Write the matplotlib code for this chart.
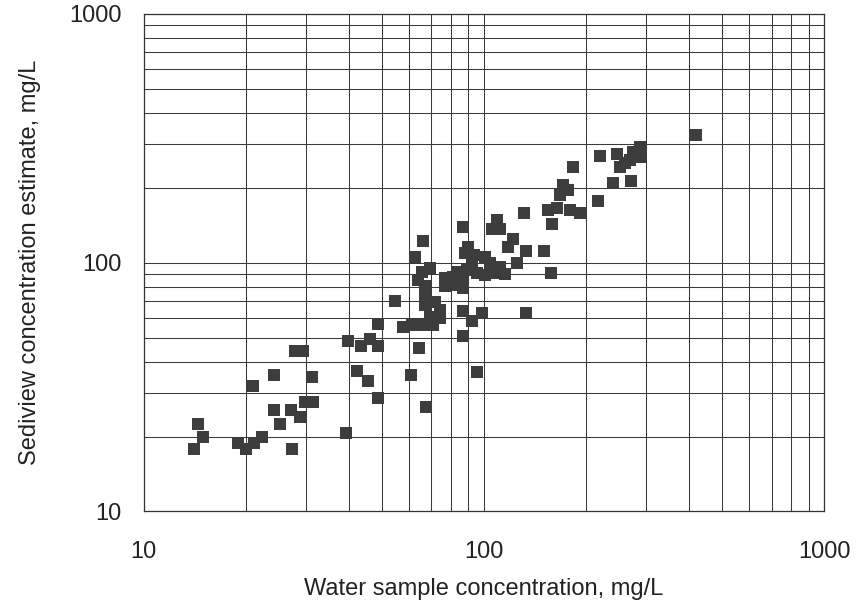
import matplotlib.pyplot as plt
from matplotlib.ticker import FixedLocator, LogLocator, NullFormatter

# Water sample concentration (mg/L) vs Sediview estimate (mg/L)
water = [14.4, 14.9, 14.0, 18.9, 20.0, 21.1, 22.3, 27.3, 20.9, 24.1,
         27.8, 29.4, 31.2, 24.1, 25.1, 27.0, 28.8, 29.8, 31.5, 39.3,
         39.9, 42.3, 45.7, 48.9, 43.6, 46.2, 48.9, 48.9, 54.7, 60.8,
         64.4, 67.5, 95.2, 86.9, 57.9, 61.2, 65.6, 71.0, 69.3, 74.3,
         74.3, 71.8, 67.0, 67.0, 67.0, 64.1, 65.6, 69.3, 62.7, 66.2,
         86.5, 92.1, 98.5, 133.0, 89.9, 87.9, 93.1, 100.7, 104.2, 111.5,
         115.3, 107.7, 100.7, 95.2, 88.9, 86.9, 86.9, 81.3, 76.7, 76.7,
         81.3, 84.0, 92.1, 86.5, 108.9, 105.4, 111.5, 130.6, 121.9, 117.8,
         133.0, 124.7, 150.3, 157.0, 154.5, 163.7, 179.1, 191.5, 158.1, 171.0,
         177.0, 167.5, 182.0, 216.7, 219.3, 245.5, 287.7, 287.7, 268.5, 251.2,
         239.3, 269.8, 420.7, 274.2, 260.0]
sediview = [22.5, 20.0, 17.9, 18.9, 17.9, 18.9, 20.0, 17.9, 31.8, 35.4,
            44.0, 44.0, 34.7, 25.6, 22.5, 25.6, 23.9, 27.5, 27.5, 20.7,
            48.2, 36.7, 33.5, 28.5, 46.2, 49.2, 46.2, 56.8, 70.3, 35.4,
            45.3, 26.4, 36.5, 50.5, 55.3, 56.2, 56.2, 56.2, 60.7, 59.8,
            64.6, 69.7, 67.6, 72.9, 80.2, 85.3, 92.1, 95.1, 105.7, 122.5,
            64.1, 58.5, 63.0, 63.0, 115.9, 109.2, 107.4, 105.7, 99.5, 96.4,
            90.2, 90.6, 89.3, 90.6, 93.5, 86.5, 78.9, 87.9, 86.5, 80.2,
            81.3, 92.1, 97.9, 138.7, 148.3, 136.1, 136.1, 158.9, 124.2, 115.3,
            111.7, 100.0, 111.7, 91.2, 163.0, 165.3, 163.0, 158.9, 143.0, 205.1,
            195.9, 187.1, 241.5, 177.4, 268.6, 273.6, 292.4, 266.7, 258.2, 243.2,
            209.4, 212.8, 325.8, 278.6, 251.3]

tick_vals = [10, 100, 1000]
tick_labels = ["10", "100", "1000"]

plt.rcParams['font.family'] = ['Liberation Sans', 'DejaVu Sans']

fig = plt.figure(figsize=(8.56, 6.01), dpi=100)
ax = fig.add_axes([0.168, 0.149, 0.795, 0.828])

ax.set_xscale("log")
ax.set_yscale("log")
ax.set_xlim(10, 1000)
ax.set_ylim(10, 1000)

for axis in (ax.xaxis, ax.yaxis):
    axis.set_major_locator(FixedLocator(tick_vals))
    axis.set_minor_locator(LogLocator(base=10, subs=range(2, 10)))
    axis.set_minor_formatter(NullFormatter())
ax.set_xticklabels(tick_labels)
ax.set_yticklabels(tick_labels)

ax.grid(True, which="both", color="#3a3a3a", linewidth=0.75)
ax.set_axisbelow(True)
ax.tick_params(which="both", length=0)
ax.tick_params(axis="x", labelsize=17, pad=21, colors="#222222")
ax.tick_params(axis="y", labelsize=17, pad=16, colors="#222222")
for s in ax.spines.values():
    s.set_color("#333333")
    s.set_linewidth(0.9)

ax.scatter(water, sediview, marker="s", s=68, color="#3d3d3d", linewidths=0, zorder=3)

ax.set_xlabel("Water sample concentration, mg/L", fontsize=17, color="#222222", labelpad=11)
ax.set_ylabel("Sediview concentration estimate, mg/L", fontsize=17, color="#222222", labelpad=20)

fig.savefig("out.png", dpi=100)
